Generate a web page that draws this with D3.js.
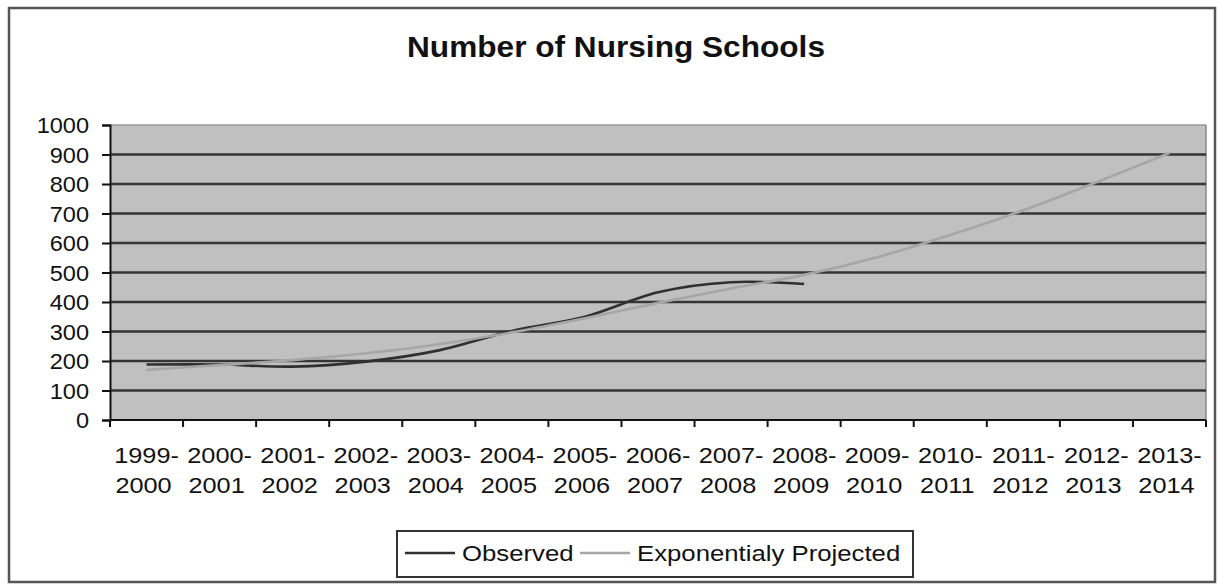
<!DOCTYPE html>
<html>
<head>
<meta charset="utf-8">
<script src="https://cdn.jsdelivr.net/npm/d3@7"></script>
<style>
  html, body { margin: 0; padding: 0; background: #fff; }
  svg { display: block; }
  text { font-family: "Liberation Sans", Arial, sans-serif; fill: #111; }
</style>
</head>
<body>
<svg id="chart" width="1219" height="586"></svg>
<script>
// ---- data ----
const title = "Number of Nursing Schools";
const categories = ["1999-2000","2000-2001","2001-2002","2002-2003","2003-2004","2004-2005","2005-2006",
  "2006-2007","2007-2008","2008-2009","2009-2010","2010-2011","2011-2012","2012-2013","2013-2014"];
const observed = [188, 188, 181, 198, 236, 302, 350, 433, 467, 461];
const projected = [170, 186, 203, 226, 257, 297, 345, 397, 446, 492, 552, 627, 711, 806, 905];
const seriesNames = ["Observed", "Exponentialy Projected"];
const yTicks = [0, 100, 200, 300, 400, 500, 600, 700, 800, 900, 1000];

// ---- layout ----
const W = 1219, H = 586;
const plot = { left: 110, right: 1206, top: 125, bottom: 420 };
const svg = d3.select("#chart");

// outer frame
svg.append("rect").attr("x", 9).attr("y", 8).attr("width", 1206).attr("height", 574)
  .attr("fill", "#fff").attr("stroke", "#555").attr("stroke-width", 2.5);

function stretchedText(g, x, y, str, size, sx, anchor, weight) {
  return g.append("text")
    .attr("transform", `translate(${x},${y}) scale(${sx},1)`)
    .attr("text-anchor", anchor)
    .style("font-size", size + "px")
    .style("font-weight", weight || "normal")
    .text(str);
}

// title
stretchedText(svg, 616, 57, title, 29, 1.09, "middle", "bold");

const x = d3.scaleBand().domain(categories).range([plot.left, plot.right]).padding(0);
const y = d3.scaleLinear().domain([0, 1000]).range([plot.bottom, plot.top]);

// plot background
svg.append("rect").attr("x", plot.left).attr("y", plot.top)
  .attr("width", plot.right - plot.left).attr("height", plot.bottom - plot.top)
  .attr("fill", "#c0c0c0").attr("stroke", "none");
// top and right border
svg.append("line").attr("x1", plot.left).attr("x2", plot.right).attr("y1", plot.top).attr("y2", plot.top)
  .attr("stroke", "#9a9a9a").attr("stroke-width", 1.5);
svg.append("line").attr("x1", plot.right).attr("x2", plot.right).attr("y1", plot.top).attr("y2", plot.bottom)
  .attr("stroke", "#8a8a8a").attr("stroke-width", 1.5);

// gridlines
svg.append("g").selectAll("line").data(yTicks.filter(d => d > 0 && d < 1000)).join("line")
  .attr("x1", plot.left).attr("x2", plot.right)
  .attr("y1", d => y(d)).attr("y2", d => y(d))
  .attr("stroke", "#353535").attr("stroke-width", 2.4);

// y axis
const yAxis = svg.append("g").attr("transform", `translate(${plot.left},0)`)
  .call(d3.axisLeft(y).tickValues(yTicks).tickSize(8).tickFormat(""));
yAxis.select(".domain").attr("stroke", "#111").attr("stroke-width", 2);
yAxis.selectAll(".tick line").attr("stroke", "#111").attr("stroke-width", 2);
yTicks.forEach(t => stretchedText(svg, 89, y(t) + 8, String(t), 22, 1.07, "end"));

// x axis (ticks at category boundaries)
const boundaries = categories.map(c => x(c)).concat([plot.right]);
svg.append("line").attr("x1", plot.left).attr("x2", plot.right).attr("y1", plot.bottom).attr("y2", plot.bottom)
  .attr("stroke", "#111").attr("stroke-width", 2);
svg.append("g").selectAll("line").data(boundaries).join("line")
  .attr("x1", d => d).attr("x2", d => d).attr("y1", plot.bottom).attr("y2", plot.bottom + 7)
  .attr("stroke", "#111").attr("stroke-width", 2);
categories.forEach(c => {
  const [a, b] = c.split("-");
  const cx = x(c) + x.bandwidth() / 2;
  stretchedText(svg, cx, 463, a + "-", 22, 1.15, "middle");
  stretchedText(svg, cx - 3, 493, b, 22, 1.15, "middle");
});

// lines
const line = d3.line()
  .x((d, i) => x(categories[i]) + x.bandwidth() / 2)
  .y(d => y(d))
  .curve(d3.curveCatmullRom.alpha(0.5));
svg.append("path").datum(observed).attr("d", line)
  .attr("fill", "none").attr("stroke", "#303030").attr("stroke-width", 2.6);
svg.append("path").datum(projected).attr("d", line)
  .attr("fill", "none").attr("stroke", "#a6a6a6").attr("stroke-width", 2.6);

// legend
const lg = svg.append("g");
lg.append("rect").attr("x", 397).attr("y", 531).attr("width", 516).attr("height", 46)
  .attr("fill", "#fff").attr("stroke", "#333").attr("stroke-width", 2);
const legendColors = ["#303030", "#a6a6a6"];
const legendX = [405, 580];
seriesNames.forEach((n, i) => {
  lg.append("line").attr("x1", legendX[i]).attr("x2", legendX[i] + 50).attr("y1", 553).attr("y2", 553)
    .attr("stroke", legendColors[i]).attr("stroke-width", 2.6);
  stretchedText(lg, legendX[i] + 57, 561, n, 22, 1.17, "start");
});
</script>
</body>
</html>
